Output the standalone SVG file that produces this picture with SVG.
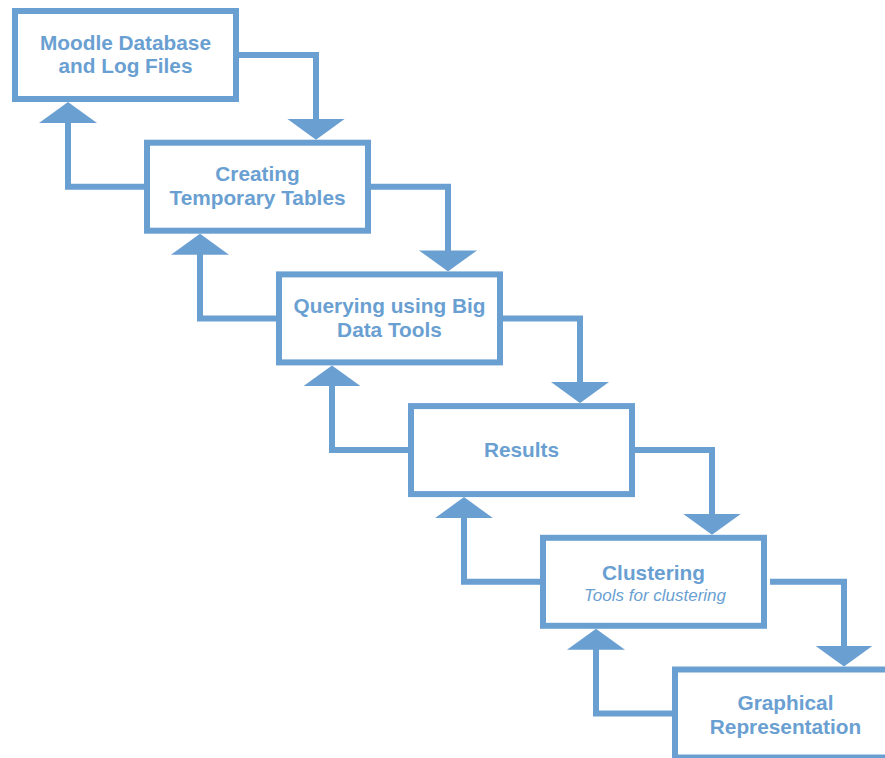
<svg xmlns="http://www.w3.org/2000/svg" width="885" height="758" viewBox="0 0 885 758">
<defs>
<style>
.box{fill:#ffffff;stroke:#6a9fd2;stroke-width:6}
.con{fill:none;stroke:#6a9fd2;stroke-width:6;stroke-linejoin:miter}
.t{font-family:"Liberation Sans",Arial,sans-serif;font-weight:bold;font-size:20.8px;fill:#6a9fd2;text-anchor:middle}
.s{font-family:"Liberation Sans",Arial,sans-serif;font-style:italic;font-size:17px;fill:#6a9fd2;text-anchor:middle}
</style>
<marker id="ah" markerUnits="userSpaceOnUse" markerWidth="21" markerHeight="58" viewBox="0 0 21 58" refX="11" refY="29" orient="auto">
<path d="M0,0 L21,29 L0,58 Z" fill="#6a9fd2"/>
</marker>
</defs>
<rect width="885" height="758" fill="#ffffff"/>
<g id="connectors">
<path class="con" marker-end="url(#ah)" d="M238,55 H316 V129.7"/>
<path class="con" marker-end="url(#ah)" d="M370,186.7 H448 V261.4"/>
<path class="con" marker-end="url(#ah)" d="M502,318.4 H580 V393.1"/>
<path class="con" marker-end="url(#ah)" d="M634,450.1 H712 V524.8"/>
<path class="con" marker-end="url(#ah)" d="M770,581.8 H844 V656.5"/>
<path class="con" marker-end="url(#ah)" d="M144,186.7 H68 V112"/>
<path class="con" marker-end="url(#ah)" d="M276,318.4 H200 V243.7"/>
<path class="con" marker-end="url(#ah)" d="M408,450.1 H332 V375.4"/>
<path class="con" marker-end="url(#ah)" d="M540,581.8 H464 V507.1"/>
<path class="con" marker-end="url(#ah)" d="M672,713.5 H596 V638.8"/>
</g>
<g id="n1">
<rect class="box" x="15" y="11" width="221" height="88"/>
<text class="t" x="125.5" y="49.5">Moodle Database</text>
<text class="t" x="125.5" y="73">and Log Files</text>
</g>
<g id="n2">
<rect class="box" x="147" y="142.7" width="221" height="88"/>
<text class="t" x="257.5" y="181.2">Creating</text>
<text class="t" x="257.5" y="204.7">Temporary Tables</text>
</g>
<g id="n3">
<rect class="box" x="279" y="274.4" width="221" height="88"/>
<text class="t" x="389.5" y="313.4">Querying using Big</text>
<text class="t" x="389.5" y="337.2">Data Tools</text>
</g>
<g id="n4">
<rect class="box" x="411" y="406.1" width="221" height="88"/>
<text class="t" x="521.5" y="457.2">Results</text>
</g>
<g id="n5">
<rect class="box" x="543" y="537.8" width="221" height="88"/>
<text class="t" x="653.5" y="580">Clustering</text>
<text class="s" x="655" y="601">Tools for clustering</text>
</g>
<g id="n6">
<rect class="box" x="675" y="669.5" width="221" height="88"/>
<text class="t" x="785.5" y="710">Graphical</text>
<text class="t" x="785.5" y="733.5">Representation</text>
</g>
</svg>
